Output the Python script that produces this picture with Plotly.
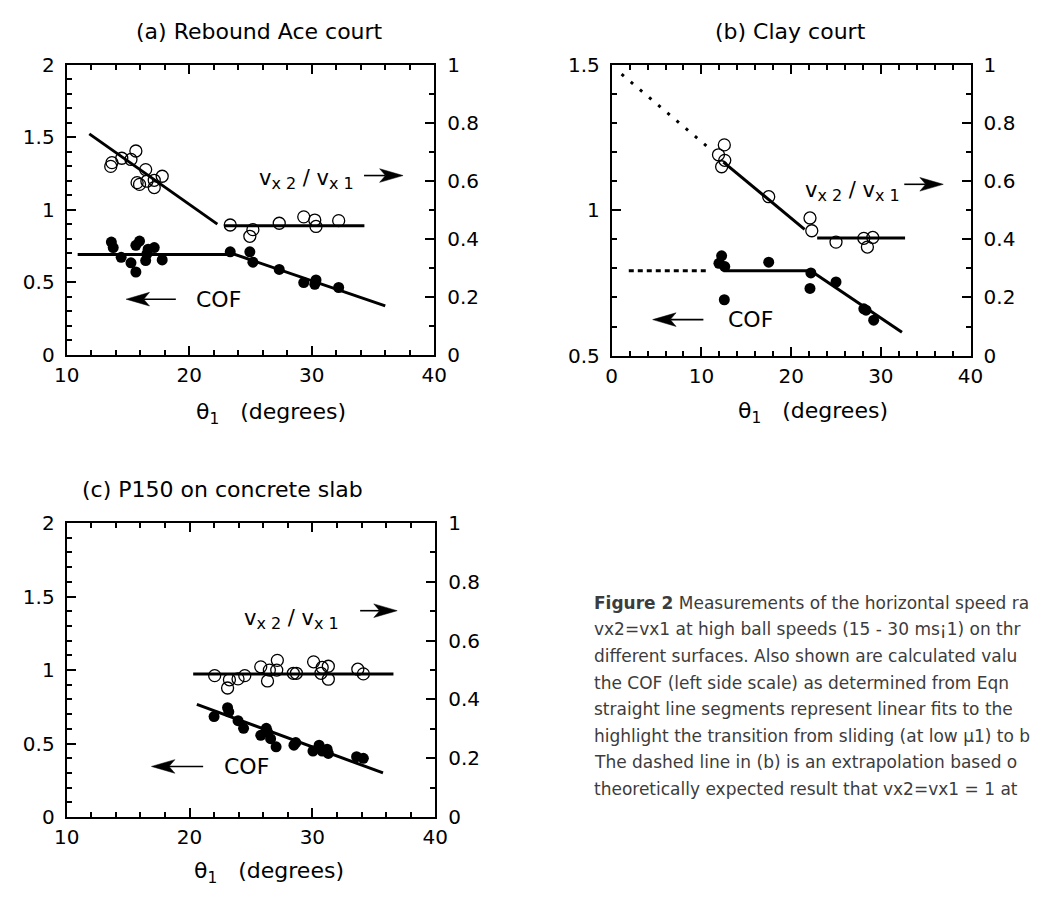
import plotly.graph_objects as go

W, H = 1045, 905
FONT = "DejaVu Sans"

# ---------------- data ----------------
# (a) Rebound Ace court
a_open_x = [13.6, 13.7, 14.5, 15.25, 15.65, 16.45, 15.75, 15.95, 16.55, 17.15, 17.15, 17.8,
            23.35, 25.2, 24.95, 27.35, 29.35, 30.25, 30.35, 32.2]
a_open_y = [0.649, 0.662, 0.677, 0.673, 0.702, 0.638, 0.593, 0.587, 0.598, 0.576, 0.601, 0.615,
            0.447, 0.431, 0.408, 0.453, 0.475, 0.464, 0.442, 0.462]
a_fill_x = [13.65, 13.8, 14.45, 15.25, 15.65, 15.65, 15.95, 16.45, 16.55, 16.65, 17.15, 17.8,
            23.35, 24.95, 25.2, 27.35, 29.35, 30.35, 30.25, 32.2]
a_fill_y = [0.776, 0.738, 0.671, 0.633, 0.570, 0.754, 0.783, 0.649, 0.694, 0.727, 0.738, 0.653,
            0.709, 0.709, 0.638, 0.588, 0.497, 0.515, 0.485, 0.463]
a_vfit1_x, a_vfit1_y = [11.85, 22.3], [0.761, 0.450]
a_vfit2_x, a_vfit2_y = [22.85, 34.3], [0.444, 0.444]
a_cof1_x, a_cof1_y = [10.9, 23.15], [0.69, 0.69]
a_cof2_x, a_cof2_y = [23.25, 36.0], [0.705, 0.336]

# (b) Clay court
b_open_x = [12.55, 11.9, 12.6, 12.25, 17.5, 22.1, 22.3, 25.0, 28.1, 28.5, 29.1]
b_open_y = [0.724, 0.690, 0.671, 0.649, 0.546, 0.473, 0.429, 0.390, 0.403, 0.373, 0.406]
b_fill_x = [12.25, 11.95, 12.6, 17.5, 22.2, 22.1, 25.0, 28.1, 28.35, 29.2, 12.55]
b_fill_y = [0.843, 0.817, 0.806, 0.821, 0.784, 0.731, 0.753, 0.661, 0.656, 0.622, 0.692]
b_vdot_x, b_vdot_y = [1.1, 10.85], [0.967, 0.713]
b_vfit1_x, b_vfit1_y = [12.45, 21.5], [0.665, 0.434]
b_vfit2_x, b_vfit2_y = [22.9, 32.7], [0.404, 0.404]
b_cofdash_x, b_cofdash_y = [1.9, 10.6], [0.792, 0.792]
b_cof1_x, b_cof1_y = [12.45, 22.55], [0.792, 0.792]
b_cof2_x, b_cof2_y = [22.55, 32.35], [0.784, 0.580]

# (c) P150 on concrete slab
c_open_x = [22.05, 23.1, 23.25, 23.95, 24.5, 25.8, 26.5, 27.15, 27.1, 26.35, 28.45, 28.7,
            30.1, 30.8, 31.3, 30.7, 31.3, 33.7, 34.15]
c_open_y = [0.481, 0.439, 0.467, 0.470, 0.481, 0.511, 0.500, 0.533, 0.500, 0.463, 0.489, 0.489,
            0.528, 0.509, 0.513, 0.489, 0.469, 0.503, 0.487]
c_fill_x = [22.0, 23.1, 23.2, 23.95, 24.4, 25.8, 26.25, 26.35, 26.6, 27.05, 28.5, 28.65,
            30.05, 30.55, 30.8, 31.2, 31.3, 33.6, 34.15]
c_fill_y = [0.684, 0.744, 0.716, 0.656, 0.604, 0.556, 0.604, 0.578, 0.533, 0.478, 0.489, 0.507,
            0.449, 0.489, 0.449, 0.462, 0.433, 0.411, 0.400]
c_vfit_x, c_vfit_y = [20.3, 36.6], [0.487, 0.487]
c_cof_x, c_cof_y = [20.6, 35.75], [0.767, 0.300]

panel_titles = ["(a) Rebound Ace court", "(b) Clay court", "(c) P150 on concrete slab"]
xlabel = "θ<sub>1</sub>   (degrees)"
vlabel = ("v<sub><span style='font-size:16px'>x 2</span></sub> / "
          "v<sub><span style='font-size:16px'>x 1</span></sub>")
coflabel = "COF"
# caption as visible in the (cropped) reference
caption_lines = [
    "<b>Figure 2</b> Measurements of the horizontal speed ra",
    "vx2=vx1 at high ball speeds (15 - 30 ms¡1) on thr",
    "different surfaces. Also shown are calculated valu",
    "the COF (left side scale) as determined from Eqn",
    "straight line segments represent linear fits to the",
    "highlight the transition from sliding (at low µ1) to b",
    "The dashed line in (b) is an extrapolation based o",
    "theoretically expected result that vx2=vx1 = 1 at",
]

# ---------------- helpers ----------------
def px(x):
    return x / W

def py(y):
    return 1 - y / H

fig = go.Figure()

def line(x, y, xa, ya, dash="solid", width=3):
    fig.add_trace(go.Scatter(x=x, y=y, xaxis=xa, yaxis=ya, mode="lines",
                             line=dict(color="black", width=width, dash=dash),
                             hoverinfo="skip"))

def pts(x, y, xa, ya, filled):
    if filled:
        m = dict(symbol="circle", size=11, color="black", line=dict(width=0))
    else:
        m = dict(symbol="circle-open", size=12, color="black", line=dict(width=1.3, color="black"))
    fig.add_trace(go.Scatter(x=x, y=y, xaxis=xa, yaxis=ya, mode="markers", marker=m))

# panel a : x / y (left) / y2 (right)
line(a_vfit1_x, a_vfit1_y, "x", "y2")
line(a_vfit2_x, a_vfit2_y, "x", "y2")
line(a_cof1_x, a_cof1_y, "x", "y")
line(a_cof2_x, a_cof2_y, "x", "y")
pts(a_open_x, a_open_y, "x", "y2", False)
pts(a_fill_x, a_fill_y, "x", "y", True)

# panel b : x2 / y3 / y4
line(b_vdot_x, b_vdot_y, "x2", "y4", dash="3px,9px")
line(b_vfit1_x, b_vfit1_y, "x2", "y4")
line(b_vfit2_x, b_vfit2_y, "x2", "y4")
line(b_cofdash_x, b_cofdash_y, "x2", "y3", dash="5px,4px")
line(b_cof1_x, b_cof1_y, "x2", "y3")
line(b_cof2_x, b_cof2_y, "x2", "y3")
pts(b_open_x, b_open_y, "x2", "y4", False)
pts(b_fill_x, b_fill_y, "x2", "y3", True)

# panel c : x3 / y5 / y6
line(c_vfit_x, c_vfit_y, "x3", "y6")
line(c_cof_x, c_cof_y, "x3", "y5")
pts(c_open_x, c_open_y, "x3", "y6", False)
pts(c_fill_x, c_fill_y, "x3", "y5", True)

tickfont = dict(family=FONT, size=20, color="black")

def xax(rng, dom, anchor, minor_dt):
    return dict(range=rng, domain=dom, anchor=anchor, dtick=10, tick0=0,
                ticks="inside", ticklen=9, tickwidth=1.5, tickcolor="black",
                minor=dict(dtick=minor_dt, ticklen=5, tickwidth=1.5, ticks="inside",
                           tickcolor="black"),
                showline=True, linewidth=2, linecolor="black", mirror="ticks",
                showgrid=False, zeroline=False, tickfont=tickfont, ticklabelstandoff=1,
                fixedrange=True)

def yleft(rng, dom, anchor, dt):
    return dict(range=rng, domain=dom, anchor=anchor, dtick=dt, tick0=0,
                ticks="inside", ticklen=9, tickwidth=1.5, tickcolor="black",
                minor=dict(dtick=0.1, ticklen=5, tickwidth=1.5, ticks="inside",
                           tickcolor="black"),
                showline=True, linewidth=2, linecolor="black", mirror=False,
                showgrid=False, zeroline=False, tickfont=tickfont, ticklabelstandoff=6,
                fixedrange=True)

def yright(over, anchor, dom):
    return dict(range=[0, 1], overlaying=over, anchor=anchor, side="right", domain=dom,
                dtick=0.2, tick0=0, ticks="inside", ticklen=9, tickwidth=1.5,
                tickcolor="black",
                minor=dict(dtick=0.1, ticklen=5, tickwidth=1.5, ticks="inside",
                           tickcolor="black"),
                showline=True, linewidth=2, linecolor="black", mirror=False,
                showgrid=False, zeroline=False, tickfont=tickfont, ticklabelstandoff=7,
                fixedrange=True)

xa_dom = [px(55), px(432)]
ya_dom = [py(352), py(54)]
xb_dom = [px(614), px(982)]
yb_dom = [py(353), py(54)]
xc_dom = [px(55), px(433)]
yc_dom = [py(827), py(525)]

fig.update_layout(
    width=W, height=H, margin=dict(l=0, r=0, t=0, b=0),
    paper_bgcolor="white", plot_bgcolor="rgba(0,0,0,0)", showlegend=False,
    xaxis=xax([10, 40], xa_dom, "y", 2),
    yaxis=yleft([0, 2], ya_dom, "x", 0.5),
    yaxis2=yright("y", "x", ya_dom),
    xaxis2=xax([0, 40], xb_dom, "y3", 2),
    yaxis3=yleft([0.5, 1.5], yb_dom, "x2", 0.5),
    yaxis4=yright("y3", "x2", yb_dom),
    xaxis3=xax([10, 40], xc_dom, "y5", 2),
    yaxis5=yleft([0, 2], yc_dom, "x3", 0.5),
    yaxis6=yright("y5", "x3", yc_dom),
)

ann = []
shapes = []

def text(s, x, y, size=20, xanchor="center", yanchor="middle", color="black", family=FONT):
    ann.append(dict(text=s, x=px(x), y=py(y), xref="paper", yref="paper",
                    xanchor=xanchor, yanchor=yanchor, showarrow=False,
                    font=dict(family=family, size=size, color=color)))

def arrow(x_tail, x_tip, y, head_len=24, half_h=7, notch=6):
    d = 1 if x_tip > x_tail else -1
    back = x_tip - d * head_len
    shapes.append(dict(type="line", xref="paper", yref="paper",
                       x0=px(x_tail), y0=py(y), x1=px(back + d * notch), y1=py(y),
                       line=dict(color="black", width=1.6)))
    path = "M {} {} L {} {} L {} {} L {} {} Z".format(
        px(x_tip), py(y), px(back), py(y - half_h), px(back + d * notch), py(y),
        px(back), py(y + half_h))
    shapes.append(dict(type="path", xref="paper", yref="paper", path=path,
                       fillcolor="black", line=dict(color="black", width=0.5)))

# titles
text(panel_titles[0], 253, 20, size=22)
text(panel_titles[1], 797, 20, size=22)
text(panel_titles[2], 215, 491, size=22)
# x axis labels
text(xlabel, 265, 412, size=22)
text(xlabel, 820, 411, size=22)
text(xlabel, 263, 884, size=22)
# in-plot labels
text(vlabel, 250, 172, size=21, xanchor="left")
arrow(360, 400, 168)
text(coflabel, 186, 295, size=22, xanchor="left")
arrow(167, 116, 295)

text(vlabel, 810, 184, size=21, xanchor="left")
arrow(914, 954, 177)
text(coflabel, 731, 316, size=22, xanchor="left")
arrow(708, 656, 316)

text(vlabel, 235, 624, size=21, xanchor="left")
arrow(356, 394, 615)
text(coflabel, 214, 775, size=22, xanchor="left")
arrow(195, 142, 775)

# caption
for i, s in enumerate(caption_lines):
    text(s, 594, 607 + 27.3 * i, size=17, xanchor="left", color="#3c3c3c")

fig.update_layout(annotations=ann, shapes=shapes)
fig.write_html("out.html")
